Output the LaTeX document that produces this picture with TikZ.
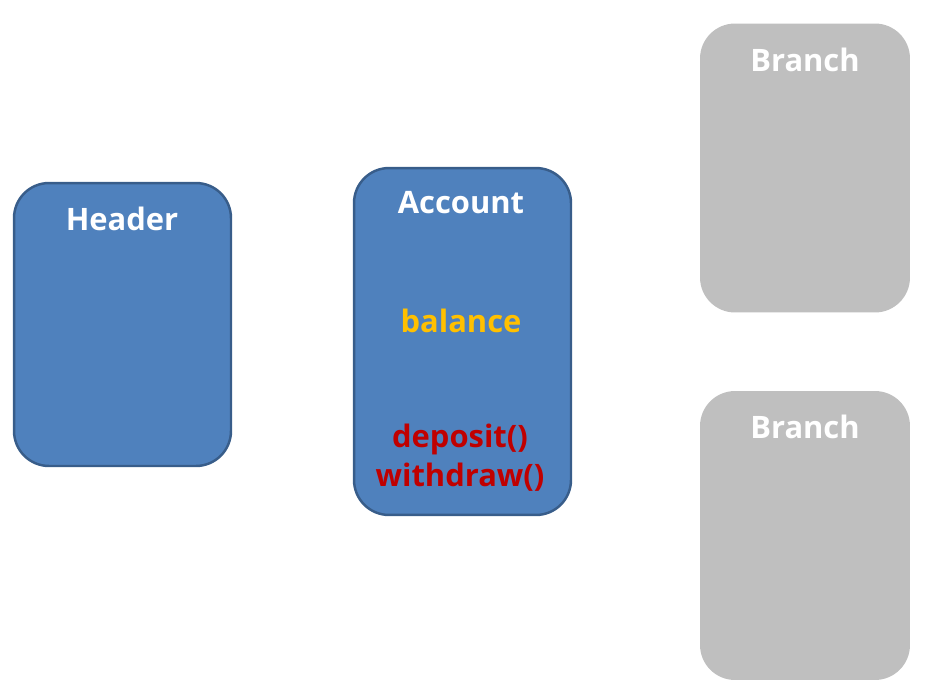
\documentclass[tikz,border=0pt]{standalone}
\usepackage{fontspec}
\setmainfont{Open Sans}
\usetikzlibrary{positioning}
\definecolor{boxblue}{HTML}{4F81BD}
\definecolor{boxline}{HTML}{385D8A}
\definecolor{boxgray}{HTML}{BFBFBF}
\definecolor{fieldyellow}{HTML}{FFC000}
\definecolor{methodred}{HTML}{C00000}
\begin{document}
\begin{tikzpicture}[x=0.02cm,y=-0.02cm,
  classbox/.style={draw=boxline, line width=1.4pt, fill=boxblue, rounded corners=0.7cm, minimum width=4.34cm},
  branchbox/.style={fill=boxgray, rounded corners=0.7cm, minimum width=4.2cm, minimum height=5.78cm},
  title/.style={text=white, font=\fontsize{17.6}{20}\selectfont\bfseries},
  member/.style={font=\fontsize{17.6}{22}\selectfont\bfseries, align=center}]
\useasboundingbox (0,0) rectangle (936,697);
% classes
\node[classbox, minimum height=5.66cm] (header) at (122.5,324.5) {};
\node[classbox, minimum height=6.94cm] (account) at (462.5,341.5) {};
\node[branchbox] (branchA) at (805,168) {};
\node[branchbox] (branchB) at (805,535.5) {};
% labels
\node[title] (headerT) at (122,219) {Header};
\node[title] (accountT) at (461,203) {Account};
\node[member, text=fieldyellow] (balance) at (461,321) {balance};
\node[member, text=methodred] (methods) at (460,458) {deposit()\\withdraw()};
\node[title] (branchAT) at (805,60) {Branch};
\node[title] (branchBT) at (805,427) {Branch};
\end{tikzpicture}
\end{document}
